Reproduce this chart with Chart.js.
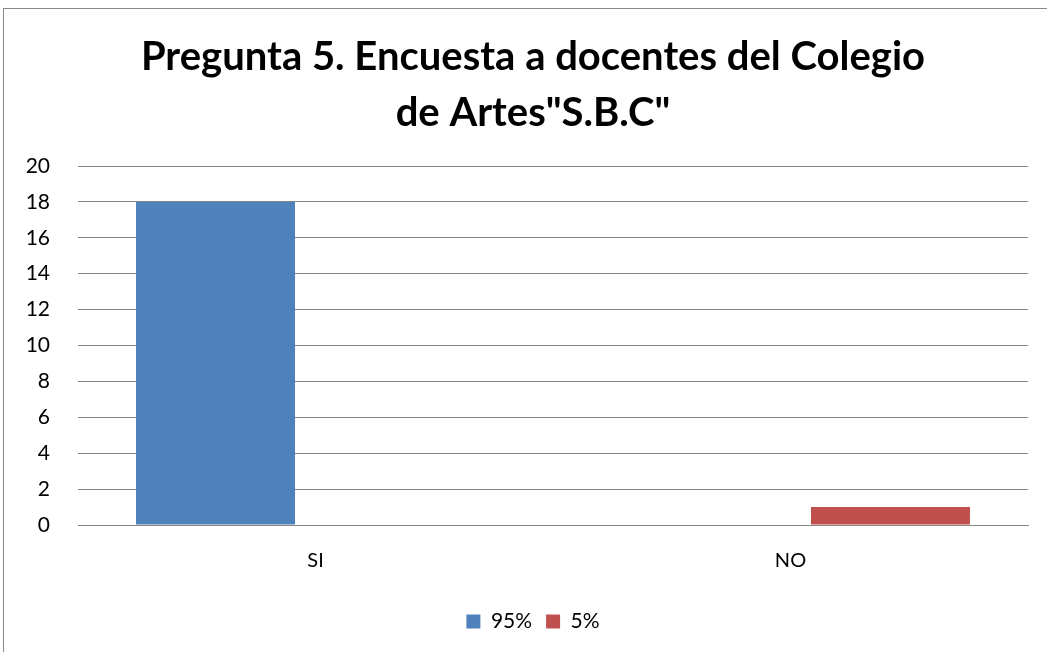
<!DOCTYPE html>
<html>
<head>
<meta charset="utf-8">
<script src="https://cdn.jsdelivr.net/npm/chart.js@4"></script>
<style>
  html, body { margin: 0; padding: 0; background: #fff; overflow: hidden; }
  #frame {
    position: absolute; left: 3px; top: 8px;
    width: 1058px; height: 670px;
    border: 1px solid #888;
    background: #fff;
  }
</style>
</head>
<body>
<div id="frame"><canvas id="chart"></canvas></div>
<script>
// ── chart data ─────────────────────────────
const categories = ['SI', 'NO'];
const seriesLabels = ['95%', '5%'];
const siValues = [18, 0];
const noValues = [0, 1];
const yTicks = [0, 2, 4, 6, 8, 10, 12, 14, 16, 18, 20];
const titleLines = ['Pregunta 5. Encuesta a docentes del Colegio', 'de Artes"S.B.C"'];

const FONT = "Lato, 'Open Sans', sans-serif";
const GRID = '#868686';

const ctx = document.getElementById('chart');
new Chart(ctx, {
  type: 'bar',
  data: {
    labels: categories,
    datasets: [
      { label: seriesLabels[0], data: siValues, backgroundColor: '#4F81BD', categoryPercentage: 0.842, barPercentage: 0.795 },
      { label: seriesLabels[1], data: noValues, backgroundColor: '#C0504D', categoryPercentage: 0.842, barPercentage: 0.795 },
    ],
  },
  options: {
    responsive: true, maintainAspectRatio: false, animation: false,
    layout: { padding: { left: 0, right: 0, top: 0, bottom: 37 } },
    plugins: {
      title: {
        display: true, text: titleLines, color: '#000',
        font: { family: FONT, size: 40, weight: 'bold', lineHeight: 1.4 },
        padding: { top: 20, bottom: 25 },
      },
      legend: {
        position: 'bottom',
        labels: { color: '#000', font: { family: FONT, size: 21 }, boxWidth: 14, boxHeight: 14, padding: 14 },
      },
      tooltip: { enabled: false },
    },
    scales: {
      x: {
        grid: { display: false, drawTicks: false },
        border: { display: true, color: GRID, width: 1 },
        ticks: { color: '#000', font: { family: FONT, size: 20 }, padding: 24 },
      },
      y: {
        min: 0, max: 20,
        afterFit: s => { s.width = 74; },
        afterBuildTicks: s => { s.ticks = yTicks.map(v => ({ value: v })); },
        grid: { color: GRID, lineWidth: 1, drawTicks: false },
        border: { display: false },
        ticks: { color: '#000', font: { family: FONT, size: 21 }, padding: 28 },
      },
      // empty right-hand spacer so the plot ends where the reference does
      spacer: {
        type: 'linear', position: 'right', min: 0, max: 20,
        afterFit: s => { s.width = 34; },
        grid: { display: false, drawTicks: false },
        border: { display: false },
        ticks: { display: false },
      },
    },
  },
});
</script>
</body>
</html>
